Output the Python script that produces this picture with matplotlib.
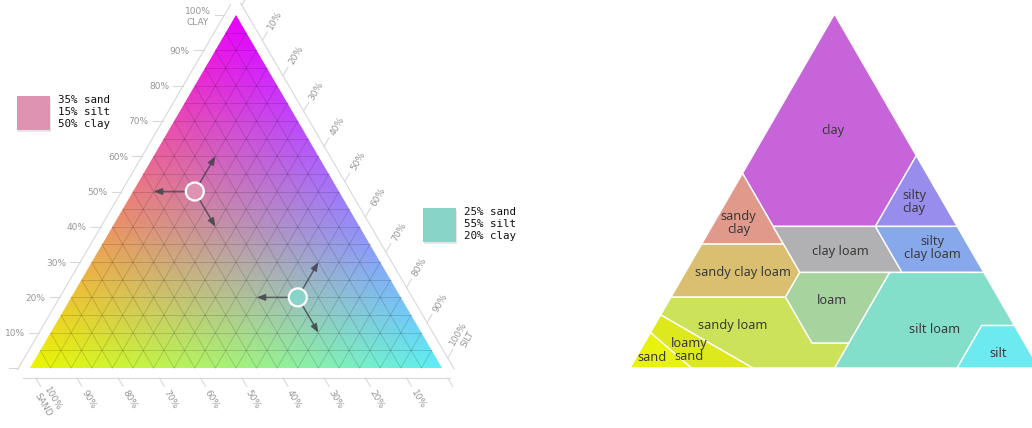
import numpy as np
import matplotlib.pyplot as plt
from matplotlib.patches import Polygon, Circle, Rectangle

# two sample soils (percent)
point_sand = [35, 25]
point_silt = [15, 55]
point_clay = [50, 20]

tick_values = [0, 10, 20, 30, 40, 50, 60, 70, 80, 90, 100]
grid_step = 5

# USDA texture classes, vertices as (sand, silt, clay) percent
class_names = ["clay", "silty\nclay", "sandy\nclay", "clay loam", "silty\nclay loam",
               "sandy clay loam", "loam", "silt loam", "silt", "sandy loam",
               "loamy\nsand", "sand"]
class_vertices = [
    [(0, 0, 100), (45, 0, 55), (45, 15, 40), (20, 40, 40), (0, 40, 60)],
    [(0, 40, 60), (20, 40, 40), (0, 60, 40)],
    [(45, 0, 55), (65, 0, 35), (45, 20, 35)],
    [(45, 15, 40), (45, 20, 35), (45, 28, 27), (20, 53, 27), (20, 40, 40)],
    [(20, 40, 40), (20, 53, 27), (0, 73, 27), (0, 60, 40)],
    [(65, 0, 35), (80, 0, 20), (52, 28, 20), (45, 28, 27), (45, 20, 35)],
    [(45, 28, 27), (52, 28, 20), (52, 41, 7), (43, 50, 7), (23, 50, 27)],
    [(23, 50, 27), (43, 50, 7), (50, 50, 0), (20, 80, 0), (8, 80, 12), (0, 88, 12), (0, 73, 27)],
    [(20, 80, 0), (0, 100, 0), (0, 88, 12), (8, 80, 12)],
    [(80, 0, 20), (85, 0, 15), (70, 30, 0), (50, 50, 0), (43, 50, 7), (52, 41, 7), (52, 28, 20)],
    [(85, 0, 15), (90, 0, 10), (85, 15, 0), (70, 30, 0)],
    [(90, 0, 10), (100, 0, 0), (85, 15, 0)],
]
class_colors = ["#c864da", "#988cec", "#e0998a", "#b1b1b3", "#87a9ec", "#d9bf6f",
                "#a7d39f", "#84dfca", "#6deaf0", "#cce25a", "#dde81f", "#e8f20c"]
class_label_pos = [(17, 16, 67), (7, 46, 47), (53, 6, 41), (32, 35, 33), (9, 57, 34),
                   (59, 14, 27), (41, 40, 19), (20, 69, 11), (8, 88, 4), (69, 19, 12),
                   (83, 12, 5), (93, 4, 3)]

# corner colours of the gradient triangle
c_sand = np.array([236, 246, 0]) / 255
c_silt = np.array([92, 238, 246]) / 255
c_clay = np.array([232, 0, 255]) / 255

# triangle frames in pixels: x0, width, base y, height
LEFT = (30, 412, 368, 353)
RIGHT = (630, 409, 368, 354)


def tern(sand, silt, clay, frame):
    x0, w, base, h = frame
    return x0 + w * (silt + clay / 2), base - h * clay


def swatch_color(sand, silt, clay):
    # pure CMY mix, drawn a little washed out
    rgb = np.array([1 - silt, 1 - clay, 1 - sand])
    return 0.85 * rgb + 0.15


fig = plt.figure(figsize=(10.32, 4.28), dpi=100)
ax = fig.add_axes([0, 0, 1, 1])
ax.set_xlim(0, 1032)
ax.set_ylim(428, 0)
ax.axis("off")

# ---- left: gradient ternary ----
x0, w, base, h = LEFT
xs = np.linspace(x0, x0 + w, 420)
ys = np.linspace(base - h, base, 360)
X, Y = np.meshgrid(xs, ys)
cl = (base - Y) / h
si = (X - x0) / w - cl / 2
sa = 1 - si - cl
img = np.clip(sa[..., None] * c_sand + si[..., None] * c_silt + cl[..., None] * c_clay, 0, 1)
tri = Polygon([tern(1, 0, 0, LEFT), tern(0, 1, 0, LEFT), tern(0, 0, 1, LEFT)],
              closed=True, fc="none", ec="none")
ax.add_patch(tri)
im = ax.imshow(img, extent=(x0, x0 + w, base, base - h), origin="upper",
               interpolation="bilinear", zorder=1)
im.set_clip_path(tri)

for v in range(grid_step, 100, grid_step):
    f = v / 100
    for a, b in [(tern(1 - f, 0, f, LEFT), tern(0, 1 - f, f, LEFT)),
                 (tern(f, 1 - f, 0, LEFT), tern(f, 0, 1 - f, LEFT)),
                 (tern(1 - f, f, 0, LEFT), tern(0, f, 1 - f, LEFT))]:
        ax.plot([a[0], b[0]], [a[1], b[1]], color="black", alpha=0.16, lw=0.6, zorder=2)

# axes around the triangle
e1, e2, e3 = 0.028, 0.052, 0.062
axis_col = "#d8d8d8"
lab_col = "#959595"
ang = np.degrees(np.arctan2(h, w / 2))
fr = np.linspace(-0.005, 1.03, 2)
p = [tern(1 - f + e1, -e1, f, LEFT) for f in fr]
ax.plot([q[0] for q in p], [q[1] for q in p], color=axis_col, lw=0.8)
p = [tern(f, 1 - f + e1, -e1, LEFT) for f in fr]
ax.plot([q[0] for q in p], [q[1] for q in p], color=axis_col, lw=0.8)
p = [tern(-e1, f, 1 - f + e1, LEFT) for f in fr]
ax.plot([q[0] for q in p], [q[1] for q in p], color=axis_col, lw=0.8)

for v in tick_values:
    f = v / 100
    a, b = tern(1 - f + e1, -e1, f, LEFT), tern(1 - f + e2, -e2, f, LEFT)
    ax.plot([a[0], b[0]], [a[1], b[1]], color=axis_col, lw=0.8)
    a, b = tern(f, 1 - f + e1, -e1, LEFT), tern(f, 1 - f + e2, -e2, LEFT)
    ax.plot([a[0], b[0]], [a[1], b[1]], color=axis_col, lw=0.8)
    a, b = tern(-e1, f, 1 - f + e1, LEFT), tern(-e2, f, 1 - f + e2, LEFT)
    ax.plot([a[0], b[0]], [a[1], b[1]], color=axis_col, lw=0.8)
    if v == 0:
        continue
    lx, ly = tern(1 - f + e3, -e3, f, LEFT)
    ax.text(lx, ly, f"{v}%" + ("\nCLAY" if v == 100 else ""), ha="right",
            va="center_baseline", ma="center", fontsize=6.5, color=lab_col, linespacing=1.3)
    lx, ly = tern(f, 1 - f + e3, -e3, LEFT)
    ax.text(lx, ly, f"{v}%" + ("\nSAND" if v == 100 else ""), ha="left",
            va="center_baseline", ma="center", rotation=-ang, rotation_mode="anchor",
            fontsize=6.5, color=lab_col, linespacing=1.3)
    lx, ly = tern(-e3, f, 1 - f + e3, LEFT)
    ax.text(lx, ly, f"{v}%" + ("\nSILT" if v == 100 else ""), ha="left",
            va="center_baseline", ma="center", rotation=ang, rotation_mode="anchor",
            fontsize=6.5, color=lab_col, linespacing=1.3)

# sample points, reading arrows and swatches
swatch_xy = [(17, 96), (423, 208)]
d = 0.1
for i in range(len(point_sand)):
    s, t, c = point_sand[i] / 100, point_silt[i] / 100, point_clay[i] / 100
    col = swatch_color(s, t, c)
    px, py = tern(s, t, c, LEFT)
    for ds, dt, dc in [(d, -d, 0), (-d, 0, d), (0, d, -d)]:
        ex, ey = tern(s + ds, t + dt, c + dc, LEFT)
        ax.annotate("", xy=(ex, ey), xytext=(px, py), zorder=4,
                    arrowprops=dict(arrowstyle="-|>,head_length=0.5,head_width=0.2",
                                    color="#45454f", alpha=0.75, lw=1.1,
                                    shrinkA=0, shrinkB=0))
    ax.add_patch(Circle((px, py), 9, fc=col, ec="white", lw=1.6, zorder=5))
    sx, sy = swatch_xy[i]
    ax.add_patch(Rectangle((sx + 1, sy + 1.5), 33, 34, fc="#e6e6e6", ec="none", zorder=5))
    ax.add_patch(Rectangle((sx, sy), 33, 34, fc=col, ec="none", zorder=6))
    ax.text(sx + 41, sy - 1, f"{point_sand[i]}% sand\n{point_silt[i]}% silt\n{point_clay[i]}% clay",
            family="DejaVu Sans Mono", fontsize=7.8, ha="left", va="top",
            linespacing=1.22, color="#111111", zorder=6)

# ---- right: USDA texture classes ----
for name, verts, col, lp in zip(class_names, class_vertices, class_colors, class_label_pos):
    pts = [tern(a / 100, b / 100, c / 100, RIGHT) for a, b, c in verts]
    ax.add_patch(Polygon(pts, closed=True, fc=col, ec="white", lw=1.0, zorder=2))
    lx, ly = tern(lp[0] / 100, lp[1] / 100, lp[2] / 100, RIGHT)
    ax.text(lx, ly, name, ha="center", va="center", fontsize=9.2, color="#3a3a3a",
            family="Noto Sans", linespacing=1.0, zorder=3)

fig.savefig("out.png", dpi=100)
